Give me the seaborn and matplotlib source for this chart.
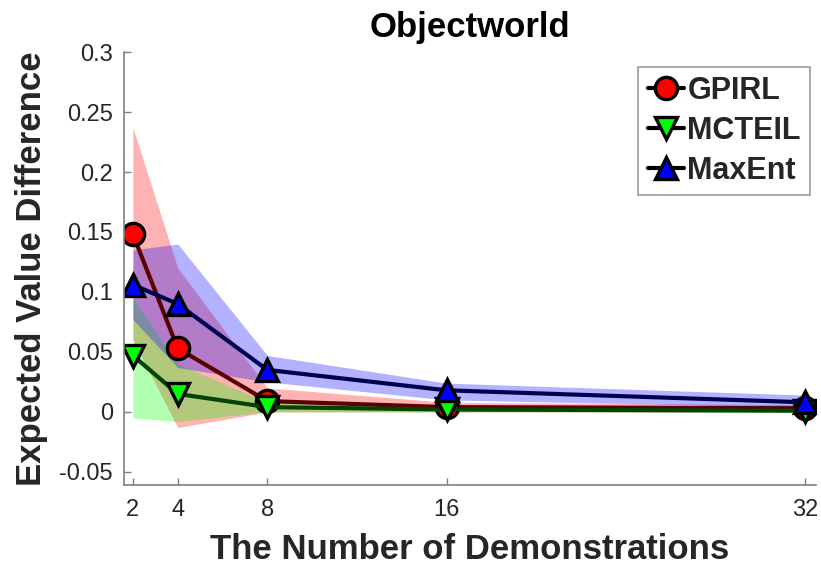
import numpy as np
import pandas as pd
import matplotlib
matplotlib.use("Agg")
import matplotlib.pyplot as plt
import seaborn as sns

demos = [2, 4, 8, 16, 32]
gpirl_mean = [0.148, 0.053, 0.009, 0.004, 0.003]
gpirl_low = [0.060, -0.013, 0.000, 0.000, 0.000]
gpirl_high = [0.237, 0.120, 0.020, 0.008, 0.006]
mcteil_mean = [0.047, 0.015, 0.004, 0.002, 0.001]
mcteil_low = [-0.005, -0.008, 0.000, 0.000, 0.000]
mcteil_high = [0.095, 0.040, 0.008, 0.004, 0.003]
maxent_mean = [0.106, 0.090, 0.035, 0.018, 0.008]
maxent_low = [0.077, 0.037, 0.025, 0.010, 0.004]
maxent_high = [0.135, 0.140, 0.047, 0.024, 0.014]

sns.set_theme(style="white")
plt.rcParams['font.family'] = ['Liberation Sans', 'DejaVu Sans']

fig = plt.figure(figsize=(8.21, 5.66), dpi=100)
ax = fig.add_axes([0.151, 0.143, 0.843, 0.765])

series = [
    ("GPIRL", gpirl_mean, gpirl_low, gpirl_high, "#ff0000", "#5a0000", "o"),
    ("MCTEIL", mcteil_mean, mcteil_low, mcteil_high, "#00ff00", "#004400", "v"),
    ("MaxEnt", maxent_mean, maxent_low, maxent_high, "#0000ff", "#000050", "^"),
]

for name, m, lo, hi, fc, lc, mk in series:
    ax.fill_between(demos, lo, hi, color=fc, alpha=0.3, linewidth=0)

for name, m, lo, hi, fc, lc, mk in series:
    df = pd.DataFrame({"x": demos, "y": m})
    sns.lineplot(data=df, x="x", y="y", ax=ax, color=lc, linewidth=3,
                 marker=mk, markersize=16, markerfacecolor=fc,
                 markeredgecolor="black", markeredgewidth=2.4, label=name)

ax.set_xlim(1.6, 32.5)
ax.set_ylim(-0.061, 0.3)
ax.set_xticks(demos)
ax.set_xticklabels([str(d) for d in demos])
ax.set_yticks([-0.05, 0, 0.05, 0.1, 0.15, 0.2, 0.25, 0.3])
ax.set_yticklabels(["-0.05", "0", "0.05", "0.1", "0.15", "0.2", "0.25", "0.3"])
ax.tick_params(axis="both", labelsize=17, labelcolor="#262626", direction="in",
               length=5, width=1, left=True, bottom=True, pad=8,
               color="#808080")
ax.tick_params(axis="x", pad=10)
for s in ["top", "right"]:
    ax.spines[s].set_visible(False)
for s in ["left", "bottom"]:
    ax.spines[s].set_color("#808080")
    ax.spines[s].set_linewidth(1.2)

ax.set_xlabel("The Number of Demonstrations", fontsize=25, fontweight="bold",
              color="#262626", labelpad=9)
ax.set_ylabel("Expected Value Difference", fontsize=25, fontweight="bold",
              color="#262626", labelpad=8)
ax.set_title("Objectworld", fontsize=25, fontweight="bold", color="black", pad=11)

leg = ax.legend(loc="upper right", bbox_to_anchor=(1.0, 0.98),
                prop={"weight": "bold", "size": 22}, handlelength=1.2,
                handletextpad=0.1, borderpad=0.3, labelspacing=0.33,
                borderaxespad=0.2,
                frameon=True, fancybox=False, edgecolor="#808080")
leg.get_frame().set_linewidth(1.2)
for h in leg.legend_handles:
    h.set_color("black")
    h.set_markeredgecolor("black")

fig.savefig("out.png", dpi=100)
